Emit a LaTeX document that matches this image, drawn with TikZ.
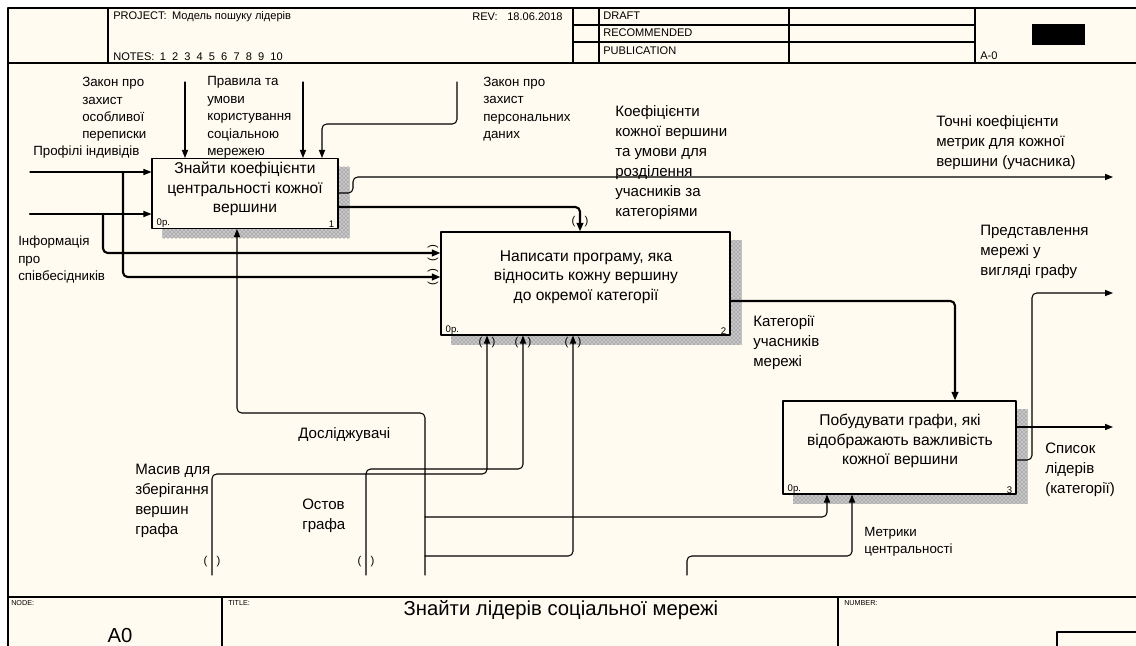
\documentclass[tikz,border=0pt]{standalone}
\usepackage{fontspec}
\setmainfont{Liberation Sans}
\usetikzlibrary{calc, patterns, arrows.meta, backgrounds}

\definecolor{idefbg}{RGB}{255,251,240}
\definecolor{ombra}{RGB}{95,95,95}

\newcommand{\fpiccolo}{\fontsize{10}{13.1}\selectfont}
\newcommand{\fgrande}{\fontsize{11.3}{15}\selectfont}
\newcommand{\fblocco}{\fontsize{11.7}{14.6}\selectfont}
\newcommand{\fcornice}{\fontsize{8.3}{9}\selectfont}
\newcommand{\fminimo}{\fontsize{5.4}{6}\selectfont}
\newcommand{\ftitolo}{\fontsize{15.2}{16}\selectfont}

\tikzset{
  blocco/.style={draw, line width=0.8pt, fill=idefbg, inner sep=0pt},
  testoblocco/.style={inner sep=0pt, align=center, font=\fblocco},
  etich/.style={inner sep=0pt, anchor=west, align=left, font=\fpiccolo},
  etichg/.style={etich, font=\fgrande},
  cornice/.style={inner sep=0pt, anchor=west, font=\fcornice},
  angolo/.style={inner sep=0pt, font=\fontsize{7.2}{8}\selectfont},
  tunnel/.style={inner sep=0pt, font=\fontsize{8.5}{9}\selectfont},
  linea/.style={line width=0.8pt, rounded corners=3.5pt},
  lineag/.style={linea, line width=1.6pt},
  freccia/.style={linea, -{Triangle[length=6pt,width=4.6pt]}},
  frecciag/.style={lineag, -{Triangle[length=6.5pt,width=5pt]}},
}

\begin{document}
\begin{tikzpicture}[x=0.75pt, y=-0.75pt, line cap=round, line join=round]
\useasboundingbox (0,0) rectangle (1136,646);

% sfondo
\begin{scope}[on background layer]
  \fill[white] (0,0) rectangle (1136,646);
  \fill[idefbg] (8,8) rectangle (1136,646);
\end{scope}

% cornice
\draw[line width=0.8pt] (1136,8) -- (8,8) -- (8,646);
\draw[line width=0.8pt] (8,63) -- (1136,63);
\draw[line width=0.8pt] (8,597) -- (1136,597);
\foreach \xx in {108,573,599,789,975} \draw[line width=0.8pt] (\xx,8) -- (\xx,63);
\foreach \yy in {25,42} \draw[line width=0.8pt] (573,\yy) -- (975,\yy);
\foreach \xx in {222,838} \draw[line width=0.8pt] (\xx,597) -- (\xx,646);
\draw[line width=0.8pt] (1057,646) |- (1136,632);
\fill[black] (1032,24) rectangle (1085,45);

% testi della cornice
\node[cornice] (prj) at (113,17) {PROJECT:\hspace{4pt}Модель пошуку лідерів};
\node[cornice] (rev) at (472,17) {REV:};
\node[cornice] (dat) at (507,17) {18.06.2018};
\node[cornice] (nts) at (113,57) {NOTES:\hspace{4pt}1\hspace{4.6pt}2\hspace{4.6pt}3\hspace{4.6pt}4\hspace{4.6pt}5\hspace{4.6pt}6\hspace{4.6pt}7\hspace{4.6pt}8\hspace{4.6pt}9\hspace{4.6pt}10};
\node[cornice] (drf) at (603,16) {DRAFT};
\node[cornice] (rcm) at (603,33) {RECOMMENDED};
\node[cornice] (pub) at (603,51) {PUBLICATION};
\node[cornice] (aa0) at (980,56) {A-0};
\node[cornice, font=\fminimo] (nd) at (11,603) {NODE:};
\node[cornice, font=\fminimo] (tt) at (228,603) {TITLE:};
\node[cornice, font=\fminimo] (nb) at (844,603) {NUMBER:};
\node[inner sep=0pt, font=\ftitolo] (tit) at (561,610) {Знайти лідерів соціальної мережі};
\node[inner sep=0pt, font=\ftitolo] (a0) at (120,636) {A0};

% blocchi
\node[blocco, minimum width=139.5pt, minimum height=52.5pt] (b1) at (245,193.5) {};
\node[blocco, minimum width=216.75pt, minimum height=77.25pt] (b2) at (585.5,283.5) {};
\node[blocco, minimum width=174.75pt, minimum height=69.75pt] (b3) at (899.5,447.5) {};

% ombre
\begin{scope}[on background layer]
\foreach \b in {b1,b2,b3} {
  \fill[black!22] ($(\b.south west)+(11,9)$) rectangle ($(\b.north east)+(11,9)$);
  \fill[pattern=crosshatch dots, pattern color=ombra]
    ($(\b.south west)+(11,9)$) rectangle ($(\b.north east)+(11,9)$);
}
\end{scope}

\node[testoblocco] (t1) at (245,189) {Знайти коефіцієнти\\центральності кожної\\вершини};
\node[testoblocco] (t2) at (586,277) {Написати програму, яка\\відносить кожну вершину\\до окремої категорії};
\node[testoblocco] (t3) at (900,441) {Побудувати графи, які\\відображають важливість\\кожної вершини};

\foreach \b/\n in {b1/1,b2/2,b3/3} {
  \node[angolo, anchor=south west] (o\n) at ($(\b.south west)+(5,-1)$) {0р.};
  \node[angolo, anchor=south east] (k\n) at ($(\b.south east)+(-4,-1)$) {\n};
}

% ingressi
\coordinate (inP) at (30,172);
\coordinate (jP) at (123,172);
\coordinate (inI) at (30,214);
\coordinate (jI) at (103,214);
\draw[freccia] (inP) -- (inP -| b1.west);
\draw[frecciag] (jP) |- (b2.west |- 0,277);
\draw[lineag] (inI) -- (jI);
\draw[freccia] (jI) -- (jI -| b1.west);
\draw[frecciag] (jI) |- (b2.west |- 0,253);

% controlli
\coordinate (cA) at (185,82);
\coordinate (cB) at (303,82);
\coordinate (cC) at (457,82);
\draw[freccia] (cA) -- (cA |- b1.north);
\draw[freccia] (cB) -- (cB |- b1.north);
\draw[freccia] (cC) |- (322,124) -- (322,0 |- b1.north);

% uscite
\coordinate (oT) at (1113,177);
\coordinate (oR) at (1113,293);
\coordinate (oS) at (1113,427);
\draw[freccia] (b1.east |- 0,193) -- (353,193) -- (353,177) -- (oT);
\draw[frecciag] (b1.east |- 0,207) -| (580,0 |- b2.north);
\draw[frecciag] (b2.east |- 0,301) -| (955,0 |- b3.north);
\draw[freccia] (b3.east |- 0,427) -- (oS);
\draw[freccia] (b3.east |- 0,460) -- (1032,460) |- (oR);

% meccanismi
\coordinate (mA) at (212,575);
\coordinate (mO) at (366,575);
\coordinate (mD) at (425,575);
\coordinate (mM) at (687,575);
\coordinate (jD1) at (425,517);
\coordinate (jD2) at (425,556);
\draw[freccia] (mA) |- (487,474) -- (487,0 |- b2.south);
\draw[freccia] (mO) |- (523,469) -- (523,0 |- b2.south);
\draw[freccia] (mD) |- (237,413) -- (237,0 |- b1.south);
\draw[freccia] (jD1) -| (827,0 |- b3.south);
\draw[freccia] (jD2) -| (573,0 |- b2.south);
\draw[freccia] (mM) |- (852,556) -- (852,0 |- b3.south);

% tunnel
\foreach \tx/\ty [count=\i] in {212/562, 366/562, 487/343, 523/343, 573/343, 580/222}
  \node[tunnel] (tu\i) at (\tx,\ty) {(\hspace{7pt})};
\node[tunnel, rotate=90] (tl1) at (433,253) {(\hspace{7pt})};
\node[tunnel, rotate=90] (tl2) at (433,277) {(\hspace{7pt})};

% etichette
\node[etich] (lZos) at (82,109.5) {Закон про\\захист\\особливої\\переписки};
\node[etich] (lProf) at (33,152) {Профілі індивідів};
\node[etich] (lPrav) at (207,117.5) {Правила та\\умови\\користування\\соціальною\\мережею};
\node[etich] (lZper) at (483,109) {Закон про\\захист\\персональних\\даних};
\node[etichg] (lKoef) at (615,163) {Коефіцієнти\\кожної вершини\\та умови для\\розділення\\учасників за\\категоріями};
\node[etichg] (lTochni) at (936,142.5) {Точні коефіцієнти\\метрик для кожної\\вершини (учасника)};
\node[etich] (lInf) at (18,259.5) {Інформація\\про\\співбесідників};
\node[etichg] (lPred) at (980,251.5) {Представлення\\мережі у\\вигляді графу};
\node[etichg] (lKat) at (753,343) {Категорії\\учасників\\мережі};
\node[etichg] (lDosl) at (298,435) {Дослiджувачi};
\node[etichg] (lMas) at (135,501) {Масив для\\зберігання\\вершин\\графа};
\node[etichg] (lOst) at (302,516) {Остов\\графа};
\node[etich] (lMetr) at (864,542) {Метрики\\центральності};
\node[etichg] (lSp) at (1045,470) {Список\\лідерів\\(категорії)};
\end{tikzpicture}
\end{document}
